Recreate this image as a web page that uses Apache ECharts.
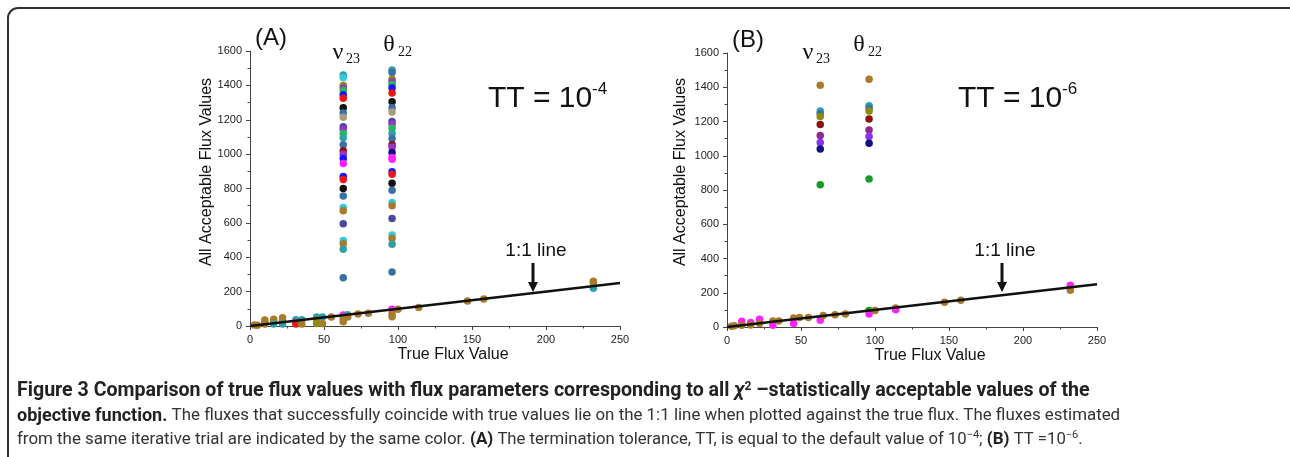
<!DOCTYPE html>
<html>
<head>
<meta charset="utf-8">
<script src="https://cdn.jsdelivr.net/npm/echarts@6/dist/echarts.min.js"></script>
<style>
  html, body { margin: 0; padding: 0; background: #fff; }
  #chart { width: 1290px; height: 457px; }
</style>
</head>
<body>
<div id="chart"></div>
<script>
// tick labels
const xTicks = [0, 50, 100, 150, 200, 250];
const yTicks = [0, 200, 400, 600, 800, 1000, 1200, 1400, 1600];

// the two parameters that stand off the 1:1 line sit at these true fluxes
const NU23_X = 63;
const THETA22_X = 96;

// [acceptable value, trial]  -- panel A, TT = 1e-4
const nuA = [
  [1460, 0], [1445, 12], [1400, 1], [1385, 2], [1370, 3], [1345, 4], [1325, 5],
  [1270, 6], [1240, 7], [1215, 8], [1160, 9], [1145, 2], [1120, 3], [1095, 0],
  [1055, 7], [1020, 10], [1000, 2], [975, 4], [945, 11], [870, 4], [852, 5],
  [800, 6], [757, 7], [690, 12], [670, 13], [595, 9], [497, 12], [478, 13],
  [447, 0], [281, 7]
];
const thetaA = [
  [1490, 0], [1475, 7], [1435, 1], [1420, 2], [1405, 3], [1385, 4], [1355, 5],
  [1305, 6], [1270, 7], [1245, 8], [1190, 9], [1175, 2], [1150, 3], [1120, 0],
  [1090, 7], [1055, 10], [1040, 2], [1010, 14], [980, 11], [970, 11], [897, 4],
  [883, 5], [831, 6], [790, 7], [718, 12], [700, 13], [626, 9], [529, 12],
  [509, 13], [476, 0], [314, 7]
];
// [true flux, acceptable value, trial]
const lineA = [
  [3, 6, 13], [5, 4, 13], [10, 35, 13], [10, 24, 13], [10, 12, 13],
  [16, 40, 13], [16, 25, 13], [16, 12, 0], [22, 48, 13], [22, 31, 13], [22, 12, 0],
  [31, 37, 0], [31, 20, 11], [31, 12, 5], [35, 37, 0], [35, 12, 13],
  [45, 52, 0], [45, 35, 13], [45, 15, 1], [49, 52, 0], [49, 15, 13], [55, 52, 13],
  [63, 64, 11], [63, 45, 13], [63, 25, 13], [66, 66, 0], [66, 52, 13],
  [73, 70, 13], [80, 74, 13], [96, 97, 11], [96, 70, 13], [96, 54, 13],
  [100, 97, 13], [114, 108, 13], [147, 145, 13], [158, 157, 13],
  [232, 261, 13], [232, 252, 13], [232, 219, 0]
];

// panel B, TT = 1e-6
const nuB = [
  [1411, 13], [1262, 0], [1245, 7], [1229, 1], [1182, 10], [1118, 15],
  [1077, 16], [1040, 14], [831, 17]
];
const thetaB = [
  [1446, 13], [1292, 0], [1278, 7], [1262, 1], [1215, 10], [1151, 15],
  [1112, 16], [1073, 14], [864, 17]
];
const lineB = [
  [3, 5, 13], [5, 8, 13], [10, 33, 11], [10, 10, 13], [16, 27, 11], [16, 12, 13],
  [22, 45, 11], [22, 20, 13], [31, 35, 13], [31, 10, 11], [35, 35, 13],
  [45, 53, 13], [45, 20, 11], [49, 55, 13], [55, 55, 13], [63, 39, 11],
  [65, 67, 13], [73, 72, 13], [80, 76, 13], [96, 97, 17], [96, 76, 11],
  [100, 96, 13], [114, 111, 13], [114, 101, 11], [147, 144, 13], [158, 156, 13],
  [232, 244, 11], [232, 215, 13]
];

const oneToOne = [[0, 0], [250, 250]];

// one colour per iterative trial
const trialColors = [
  "#2fa0a5", "#8c8a10", "#9933cc", "#22bb55", "#1515ff", "#ee1515",
  "#111111", "#3a70a8", "#a99c78", "#4848a0", "#8b1212", "#ff22ff",
  "#35c8da", "#a87b2c", "#12127e", "#8e2a8e", "#8833ee", "#169a2a"
];

function columnPoints(x, list) {
  return list.map(([y, t]) => [x, y, t]);
}

const chart = echarts.init(document.getElementById("chart"));

const axisCommon = {
  axisLine: { show: true, lineStyle: { color: "#444", width: 1 } },
  axisTick: { show: true, inside: false, length: 4, lineStyle: { color: "#444" } },
  minorTick: { show: true, splitNumber: 2, length: 2.5, lineStyle: { color: "#444" } },
  axisLabel: {
    color: "#222",
    fontFamily: "Arial, Liberation Sans",
    fontSize: 11,
    margin: 8,
    formatter: (v) => String(v),
  },
  splitLine: { show: false },
};

function xAxis(gridIndex) {
  return {
    ...axisCommon,
    type: "value",
    gridIndex,
    min: xTicks[0],
    max: xTicks[xTicks.length - 1],
    interval: xTicks[1] - xTicks[0],
  };
}
function yAxis(gridIndex) {
  return {
    ...axisCommon,
    type: "value",
    gridIndex,
    min: yTicks[0],
    max: yTicks[yTicks.length - 1],
    interval: yTicks[1] - yTicks[0],
  };
}

function scatter(idx, data) {
  return {
    type: "scatter",
    xAxisIndex: idx,
    yAxisIndex: idx,
    symbolSize: 7.5,
    z: 2,
    data,
    itemStyle: { opacity: 1, color: (p) => trialColors[p.value[2]] },
  };
}
function identityLine(idx) {
  return {
    type: "line",
    xAxisIndex: idx,
    yAxisIndex: idx,
    data: oneToOne,
    symbol: "none",
    silent: true,
    z: 3,
    lineStyle: { color: "#111", width: 2.5 },
  };
}

function text(x, y, str, font, extra) {
  return {
    type: "text",
    x,
    y,
    silent: true,
    style: { text: str, font, fill: "#111", textAlign: "left", textVerticalAlign: "middle", ...extra },
  };
}
function arrow(x, y0, tip) {
  return [
    { type: "line", silent: true, shape: { x1: x, y1: y0, x2: x, y2: tip - 8 }, style: { stroke: "#111", lineWidth: 3 } },
    { type: "polygon", silent: true, shape: { points: [[x - 5, tip - 10], [x + 5, tip - 10], [x, tip]] }, style: { fill: "#111" } },
  ];
}

const serif = "'Liberation Serif', 'Times New Roman', serif";
const sans = "Arial, 'Liberation Sans', sans-serif";
const capFont = "Roboto, sans-serif";

function panelText(dx, sup, lineDx) {
  return [
    text(dx + 338, 53, "ν", "24px " + serif, { textAlign: "center" }),
    text(dx + 353, 59, "23", "14px " + serif, { textAlign: "center" }),
    text(dx + 389, 45, "θ", "24px " + serif, { textAlign: "center" }),
    text(dx + 405, 52, "22", "14px " + serif, { textAlign: "center" }),
    text(dx + 488, 99, "TT = 10", "30px " + sans),
    text(dx + 592, 89, sup, "17px " + sans),
    text(dx + lineDx, 251, "1:1 line", "19px " + sans, { textAlign: "center" }),
  ];
}

// caption rich styles
const capRich = {
  b: { font: "bold 18px " + capFont, fill: "#222" },
  b1: { font: "bold 19.6px " + capFont, fill: "#222" },
  bi: { font: "italic bold 19.6px " + capFont, fill: "#222" },
  r: { font: "16.9px " + capFont, fill: "#333" },
  r2: { font: "16.7px " + capFont, fill: "#333" },
  b2: { font: "bold 17px " + capFont, fill: "#222" },
  bsup: { font: "bold 12px " + capFont, fill: "#222", padding: [0, 0, 9, 0] },
  sup: { font: "11px " + capFont, fill: "#333", padding: [0, 0, 9, 0] },
};

const option = {
  backgroundColor: "#fff",
  animation: false,
  grid: [
    { left: 250, top: 51, width: 370, height: 275 },
    { left: 727, top: 53, width: 370, height: 274 },
  ],
  xAxis: [xAxis(0), xAxis(1)],
  yAxis: [yAxis(0), yAxis(1)],
  series: [
    scatter(0, [...columnPoints(NU23_X, nuA), ...columnPoints(THETA22_X, thetaA), ...lineA]),
    identityLine(0),
    scatter(1, [...columnPoints(NU23_X, nuB), ...columnPoints(THETA22_X, thetaB), ...lineB]),
    identityLine(1),
  ],
  graphic: [
    // figure frame, cut off at the right and bottom
    { type: "rect", silent: true, shape: { x: 8, y: 8, width: 1300, height: 520, r: 10 }, style: { fill: "none", stroke: "#333", lineWidth: 2 } },

    text(255, 38, "(A)", "24px " + sans),
    text(732, 40, "(B)", "24px " + sans),
    ...panelText(0, "-4", 536),
    ...panelText(470, "-6", 1005 - 470),
    ...arrow(533, 263, 292),
    ...arrow(1002, 263, 292),

    { type: "text", x: 207, y: 172, rotation: Math.PI / 2, silent: true,
      style: { text: "All Acceptable Flux Values", font: "16px " + sans, fill: "#111", textAlign: "center", textVerticalAlign: "middle" } },
    { type: "text", x: 681, y: 172, rotation: Math.PI / 2, silent: true,
      style: { text: "All Acceptable Flux Values", font: "16px " + sans, fill: "#111", textAlign: "center", textVerticalAlign: "middle" } },
    text(453, 355, "True Flux Value", "16px " + sans, { textAlign: "center" }),
    text(930, 356, "True Flux Value", "16px " + sans, { textAlign: "center" }),

    // caption
    {
      type: "text", x: 17, y: 391, silent: true,
      style: {
        text: "{b1|Figure 3 Comparison of true flux values with flux parameters corresponding to all }{bi|χ}{bsup|2}{b1| –statistically acceptable values of the}",
        textVerticalAlign: "middle",
        rich: capRich,
      },
    },
    {
      type: "text", x: 17, y: 416, silent: true,
      style: {
        text: "{b|objective function.}{r| The fluxes that successfully coincide with true values lie on the 1:1 line when plotted against the true flux. The fluxes estimated}",
        textVerticalAlign: "middle",
        rich: capRich,
      },
    },
    {
      type: "text", x: 17, y: 440, silent: true,
      style: {
        text: "{r|from the same iterative trial are indicated by the same color. }{b2|(A)}{r2| The termination tolerance, TT, is equal to the default value of 10}{sup|−4}{r2|; }{b2|(B)}{r2| TT =10}{sup|−6}{r2|.}",
        textVerticalAlign: "middle",
        rich: capRich,
      },
    },
  ],
};

chart.setOption(option);
</script>
</body>
</html>
